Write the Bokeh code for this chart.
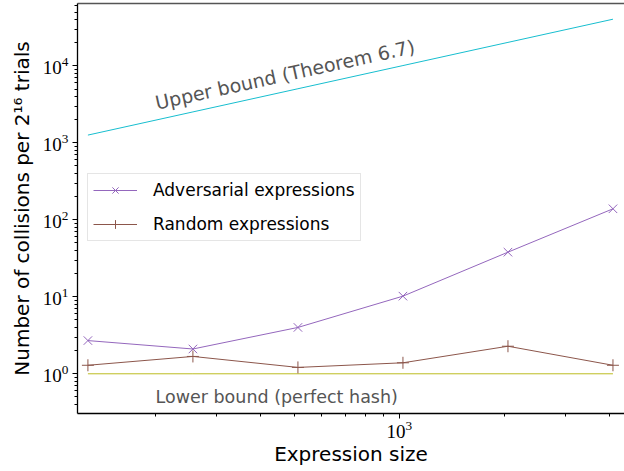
from bokeh.plotting import figure
from bokeh.models import Range1d, FixedTicker, Label, Legend, LegendItem, LogAxis
from bokeh.embed import file_html
from bokeh.resources import INLINE

# ---- data ----
sizes = [128, 256, 512, 1024, 2048, 4096]
adversarial = [2.7, 2.1, 4.0, 10.2, 38.0, 139.0]
random_expr = [1.29, 1.68, 1.21, 1.39, 2.28, 1.29]
upper_bound = [1260, 2520, 5040, 10080, 20160, 40320]
lower_bound = [1, 1, 1, 1, 1, 1]

x_major = [1000]
x_minor = [200, 300, 400, 500, 600, 700, 800, 900, 2000, 3000, 4000]
y_major = [1, 10, 100, 1000, 10000]
y_minor = [k * 10.0 ** e for e in range(-1, 5) for k in range(2, 10)]

X_MIN, X_MAX = 119.5, 4420
Y_MIN, Y_MAX = 0.305, 64500

SANS = "DejaVu Sans"
SERIF = "Liberation Serif"

p = figure(width=624, height=471, x_axis_type="log", y_axis_type="log",
           x_range=Range1d(X_MIN, X_MAX), y_range=Range1d(Y_MIN, Y_MAX),
           output_backend="svg", toolbar_location=None,
           min_border_left=77, min_border_top=3, min_border_right=0,
           min_border_bottom=58)

p.outline_line_color = None
p.xgrid.grid_line_color = None
p.ygrid.grid_line_color = None
p.background_fill_color = "white"
p.border_fill_color = "white"

p.xaxis.ticker = FixedTicker(ticks=x_major, minor_ticks=x_minor)
p.yaxis.ticker = FixedTicker(ticks=y_major, minor_ticks=y_minor)

for ax in (p.xaxis, p.yaxis):
    ax.axis_line_color = "black"
    ax.axis_line_width = 1.3
    ax.major_tick_line_color = "black"
    ax.minor_tick_line_color = "black"
    ax.major_tick_out = 5
    ax.major_tick_in = 0
    ax.minor_tick_out = 3
    ax.minor_tick_in = 0
    ax.major_label_text_font = SERIF
    ax.major_label_text_font_size = "19px"
    ax.major_label_text_color = "black"
    ax.axis_label_text_font = SANS
    ax.axis_label_text_font_size = "20px"
    ax.axis_label_text_font_style = "normal"
    ax.axis_label_text_color = "black"

p.xaxis.axis_label = "Expression size"
p.yaxis.axis_label = "Number of collisions per 2\u00b9\u2076 trials"
p.xaxis.major_label_standoff = 2
p.yaxis.major_label_standoff = 4
p.xaxis.axis_label_standoff = 1
p.yaxis.axis_label_standoff = 6

# top spine: a bare axis with no ticks or labels
top_axis = LogAxis(ticker=FixedTicker(ticks=[], minor_ticks=[]),
                   axis_line_color="#555555", axis_line_width=1.3,
                   major_tick_out=0, major_tick_in=0,
                   minor_tick_out=0, minor_tick_in=0,
                   major_label_standoff=0, major_label_text_font_size="0px")
p.add_layout(top_axis, "above")

# bounds
p.line(sizes, upper_bound, line_color="#17becf", line_width=1)
p.line(sizes, lower_bound, line_color="#bcbd22", line_width=1)

# series
adv_line = p.line(sizes, adversarial, line_color="#9467bd", line_width=1)
adv_pts = p.scatter(sizes, adversarial, marker="x", size=12,
                    line_color="#9467bd", line_width=1)
rnd_line = p.line(sizes, random_expr, line_color="#8c564b", line_width=1)
rnd_pts = p.scatter(sizes, random_expr, marker="cross", size=12,
                    line_color="#8c564b", line_width=1)

upper_text = "Upper bound (Theorem 6.7)"
lower_text = "Lower bound (perfect hash)"
p.add_layout(Label(x=200, y=3300, text=upper_text, angle=0.2164,
                   text_font=SANS, text_font_size="19px",
                   text_color="#555555", text_baseline="alphabetic",
                   text_align="left"))
p.add_layout(Label(x=200, y=0.5, text=lower_text,
                   text_font=SANS, text_font_size="17.5px",
                   text_color="#555555", text_baseline="alphabetic",
                   text_align="left"))

legend = Legend(items=[
    LegendItem(label="Adversarial expressions", renderers=[adv_line, adv_pts]),
    LegendItem(label="Random expressions", renderers=[rnd_line, rnd_pts]),
], location=(10, 172))
legend.label_text_font = SANS
legend.label_text_font_size = "17px"
legend.label_text_color = "black"
legend.glyph_width = 44
legend.glyph_height = 22
legend.label_height = 22
legend.label_standoff = 16
legend.spacing = 12
legend.padding = 5
legend.margin = 0
legend.border_line_color = "#cccccc"
legend.border_line_width = 1
legend.background_fill_alpha = 0.8
p.add_layout(legend, "center")

open("out.html", "w").write(file_html(p, INLINE))
